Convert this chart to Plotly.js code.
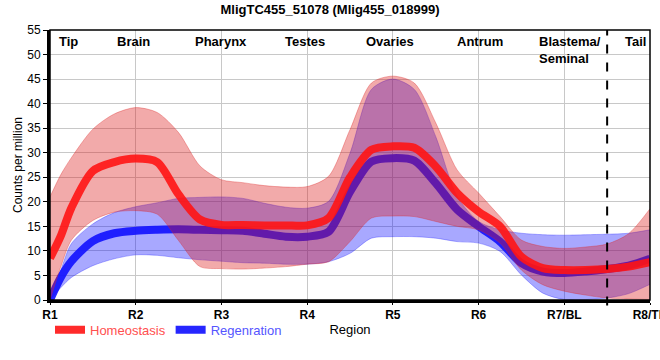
<!DOCTYPE html>
<html>
<head>
<meta charset="utf-8">
<script src="https://cdn.plot.ly/plotly-3.0.1.min.js"></script>
<style>html,body{margin:0;padding:0;background:#fff;}#chart{width:660px;height:360px;}</style>
</head>
<body>
<div id="chart"></div>
<script>
// Region categories (x axis)
var categories = ["R1", "R2", "R3", "R4", "R5", "R6", "R7/BL", "R8/TB"];
// Body-region labels along the top
var regionLabels = ["Tip", "Brain", "Pharynx", "Testes", "Ovaries", "Antrum", "Blastema/<br>Seminal", "Tail"];
var regionLabelPos = [0.22, 0.97, 2.0, 2.98, 3.97, 5.02, 5.68, 6.83];

// Sampling positions along the region axis (category index)
var pos = [0, 0.125, 0.25, 0.5, 0.75, 1, 1.25, 1.5, 1.75, 2, 2.25, 2.5, 2.75, 3, 3.25, 3.5, 3.75, 4, 4.25, 4.5, 4.75, 5, 5.25, 5.5, 5.75, 6, 6.25, 6.5, 6.75, 7];

// Homeostasis: mean and band
var homeoMean  = [8.5, 13.0, 18.8, 26.3, 28.1, 28.8, 28.1, 21.5, 16.4, 15.3, 15.3, 15.2, 15.2, 15.2, 16.7, 25.0, 30.6, 31.3, 31.0, 27.2, 21.8, 18.0, 15.0, 8.8, 6.5, 6.1, 6.1, 6.3, 6.8, 7.7];
var homeoUpper = [21.0, 25.5, 29.0, 34.8, 37.9, 39.2, 38.2, 34.1, 27.3, 24.5, 23.9, 23.3, 23.0, 23.1, 25.2, 34.7, 44.2, 45.6, 44.2, 36.1, 26.5, 21.8, 17.0, 12.2, 10.9, 10.5, 10.8, 11.4, 13.5, 18.6];
var homeoLower = [0.0, 6.7, 12.2, 16.2, 17.9, 18.2, 17.5, 12.1, 6.8, 6.4, 6.3, 6.5, 6.8, 7.3, 7.8, 11.9, 16.7, 17.1, 17.0, 16.0, 15.0, 14.3, 11.6, 6.1, 3.1, 1.8, 1.0, 0.4, 0.2, 0.1];

// Regeneration: mean and band
var regenMean  = [0.0, 4.6, 7.9, 12.0, 13.6, 14.1, 14.3, 14.4, 14.3, 14.2, 14.1, 13.5, 12.9, 12.9, 13.9, 22.0, 28.2, 28.9, 28.4, 23.8, 18.4, 15.0, 11.9, 7.5, 5.8, 5.5, 5.8, 6.3, 7.0, 8.4];
var regenUpper = [0.0, 6.0, 11.5, 15.5, 17.8, 19.0, 19.8, 20.7, 20.9, 21.0, 20.7, 19.7, 18.9, 18.7, 20.1, 29.9, 42.9, 45.0, 42.9, 33.3, 21.1, 16.0, 14.3, 13.6, 13.3, 13.2, 13.3, 13.4, 13.6, 14.3];
var regenLower = [0.0, 2.5, 4.6, 7.0, 8.4, 9.2, 9.1, 8.6, 8.2, 7.9, 7.6, 7.5, 7.3, 7.3, 7.8, 9.5, 12.6, 12.9, 12.9, 12.6, 11.9, 11.6, 9.9, 5.1, 1.4, 0.1, 0.1, 0.4, 1.3, 3.2];

var seriesNames = ["Homeostasis", "Regenration"];
var dividerPos = 6.5;

var FONT = "Liberation Sans Narrow, Arial Narrow, Liberation Sans, Arial, sans-serif";

var traces = [
  {x: pos, y: regenLower, mode: "lines", line: {shape: "spline", smoothing: 0.8, width: 1, color: "rgba(40,40,255,0.35)"}, showlegend: false, hoverinfo: "skip"},
  {x: pos, y: regenUpper, mode: "lines", fill: "tonexty", fillcolor: "rgba(0,0,255,0.34)", line: {shape: "spline", smoothing: 0.8, width: 1, color: "rgba(40,40,255,0.35)"}, showlegend: false, hoverinfo: "skip"},
  {x: pos, y: regenMean, mode: "lines", name: '<span style="color:#5555ff">' + seriesNames[1] + '</span>', line: {shape: "spline", smoothing: 0.8, width: 8, color: "rgba(20,20,255,0.92)"}, legendrank: 2},
  {x: pos, y: homeoLower, mode: "lines", line: {shape: "spline", smoothing: 0.8, width: 1, color: "rgba(220,40,40,0.35)"}, showlegend: false, hoverinfo: "skip"},
  {x: pos, y: homeoUpper, mode: "lines", fill: "tonexty", fillcolor: "rgba(220,20,20,0.36)", line: {shape: "spline", smoothing: 0.8, width: 1, color: "rgba(220,40,40,0.35)"}, showlegend: false, hoverinfo: "skip"},
  {x: pos, y: homeoMean, mode: "lines", name: '<span style="color:#ff4f4f">' + seriesNames[0] + '</span>', line: {shape: "spline", smoothing: 0.8, width: 8, color: "rgba(255,20,20,0.9)"}, legendrank: 1}
];

var annotations = regionLabels.map(function (t, i) {
  var isLeft = i === 6;
  return {
    x: regionLabelPos[i], y: 1, xref: "x", yref: "paper",
    xanchor: isLeft ? "left" : "center", yanchor: "top", yshift: -2,
    align: "left", showarrow: false, text: "<b>" + t + "</b>",
    font: {family: FONT, size: 13, color: "#000"}
  };
});

var layout = {
  width: 660, height: 360,
  margin: {l: 50, r: 10, t: 30, b: 60, pad: 0},
  paper_bgcolor: "#fff", plot_bgcolor: "#fff",
  font: {family: FONT, size: 12, color: "#000"},
  title: {text: "<b>MligTC455_51078 (Mlig455_018999)</b>", x: 0.5, xref: "container", y: 0.975, yanchor: "middle", font: {family: FONT, size: 13, color: "#000"}},
  xaxis: {
    range: [0, 7], tickvals: [0, 1, 2, 3, 4, 5, 6, 7], ticktext: categories.map(function (c) { return "<b>" + c + "</b>"; }),
    ticklabeloverflow: "allow",
    showgrid: true, gridcolor: "#c8c8c8", gridwidth: 1, zeroline: false,
    showline: true, linecolor: "#000", linewidth: 3,
    ticks: "outside", ticklen: 2, tickcolor: "#000", tickwidth: 1,
    tickfont: {family: FONT, size: 12, color: "#000"},
    title: {text: "Region", standoff: 4, font: {family: FONT, size: 13, color: "#000"}}
  },
  yaxis: {
    range: [0, 55], dtick: 5, tick0: 0,
    showgrid: true, gridcolor: "#c8c8c8", gridwidth: 1, zeroline: false,
    showline: true, linecolor: "#000", linewidth: 3,
    ticks: "outside", ticklen: 4, tickcolor: "#000", tickwidth: 1,
    tickfont: {family: FONT, size: 12, color: "#000"},
    title: {text: "Counts per million", standoff: 3, font: {family: FONT, size: 12, color: "#000"}}
  },
  showlegend: true,
  legend: {orientation: "h", x: 0, xanchor: "left", y: -0.11, yanchor: "middle", xref: "paper", yref: "paper",
           font: {family: FONT, size: 13}, itemwidth: 30, tracegroupgap: 0, bgcolor: "rgba(0,0,0,0)", traceorder: "normal"},
  shapes: [
    {type: "rect", xref: "paper", yref: "paper", x0: 0, x1: 1, y0: 0, y1: 1, line: {color: "#000", width: 1.5}, fillcolor: "rgba(0,0,0,0)", layer: "above"},
    {type: "line", xref: "x", yref: "paper", x0: dividerPos, x1: dividerPos, y0: -0.02, y1: 1, line: {color: "#000", width: 2, dash: "dash"}, layer: "above"}
  ],
  annotations: annotations
};

Plotly.newPlot("chart", traces, layout, {displayModeBar: false, staticPlot: true});
</script>
</body>
</html>
